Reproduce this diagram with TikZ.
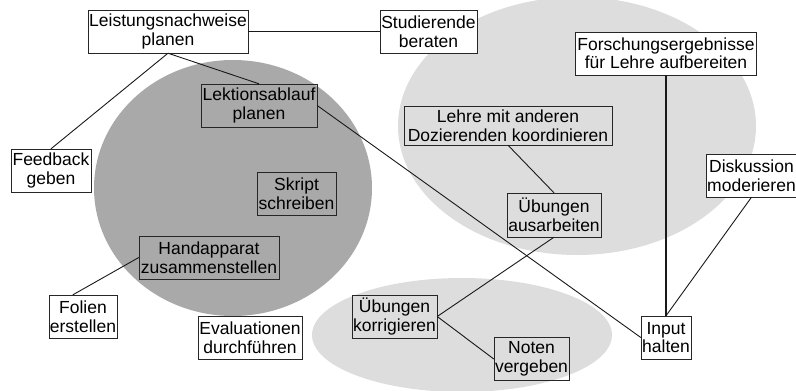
\documentclass[tikz,border=0pt]{standalone}
\usepackage{fontspec}
\setmainfont{Liberation Sans}
\usetikzlibrary{positioning}
\definecolor{darkzone}{HTML}{A9A9A9}
\definecolor{lightzone}{HTML}{DDDDDD}

\begin{document}
\begin{tikzpicture}[x=1pt, y=-1pt]
				\tikzset {task/.style={draw=black!85, fill=white, align=center, inner sep=1pt, minimum height=43pt, font=\fontsize{17.5}{18.5}\selectfont}, opentask/.style={task, fill=none}, link/.style={draw=black!90, line width=0.9pt} }
					\useasboundingbox (0,0) rectangle (796,391);
					\fill[lightzone] (577,126) ellipse [x radius=179, y radius=129];
					\fill[lightzone] (462,335) ellipse [x radius=150, y radius=57];
					\fill[darkzone] (233,188) ellipse [x radius=139, y radius=128];

					\node[task, minimum width=160pt] (0) at (168,31.5) {Leistungsnachweise\\planen};
					\node[task, minimum width=97pt] (1) at (428.5,31.5) {Studierende\\beraten};
					\node[task, minimum width=80pt] (2) at (51,170.5) {Feedback\\geben};
					\node[opentask, minimum width=116pt] (3) at (259,105.5) {Lektionsablauf\\planen};
					\node[opentask, minimum width=79pt] (4) at (296.5,193.5) {Skript\\schreiben};
					\node[opentask, minimum width=140pt] (5) at (209,257.5) {Handapparat\\zusammenstellen};
					\node[task, minimum width=68pt] (6) at (83,316.5) {Folien\\erstellen};
					\node[task, minimum width=104pt] (7) at (250,337.5) {Evaluationen\\durchführen};
					\node[task, minimum width=181pt] (8) at (666,53.3) {Forschungsergebnisse\\für Lehre aufbereiten};
					\node[opentask, minimum width=208pt, minimum height=39pt] (9) at (508,125.5) {Lehre mit anderen\\Dozierenden koordinieren};
					\node[task, minimum width=91pt] (10) at (751.5,175.5) {Diskussion\\moderieren};
					\node[opentask, minimum width=94pt, minimum height=44pt] (11) at (554,215) {Übungen\\ausarbeiten};
					\node[opentask, minimum width=85pt] (12) at (394.5,316.5) {Übungen\\korrigieren};
					\node[opentask, minimum width=75pt] (13) at (531.5,359) {Noten\\vergeben};
					\node[task, minimum width=50pt] (14) at (666,337.5) {Input\\halten};

					\draw[link]
					(0.east) edge (1.west)
					(0.south) edge (2.north)
					(0.south) edge (3.north)
					(3.east) edge (14.west)
					(5.west) edge (6.115)
					(9.south) edge (11.north)
					(11.south) edge (12.east)
					(12.east) edge (13.west)
					(10.south) edge (14.north);
					\draw[link, line width=1.6pt] (8.south) -- (14.north);
			\end{tikzpicture}
\end{document}
